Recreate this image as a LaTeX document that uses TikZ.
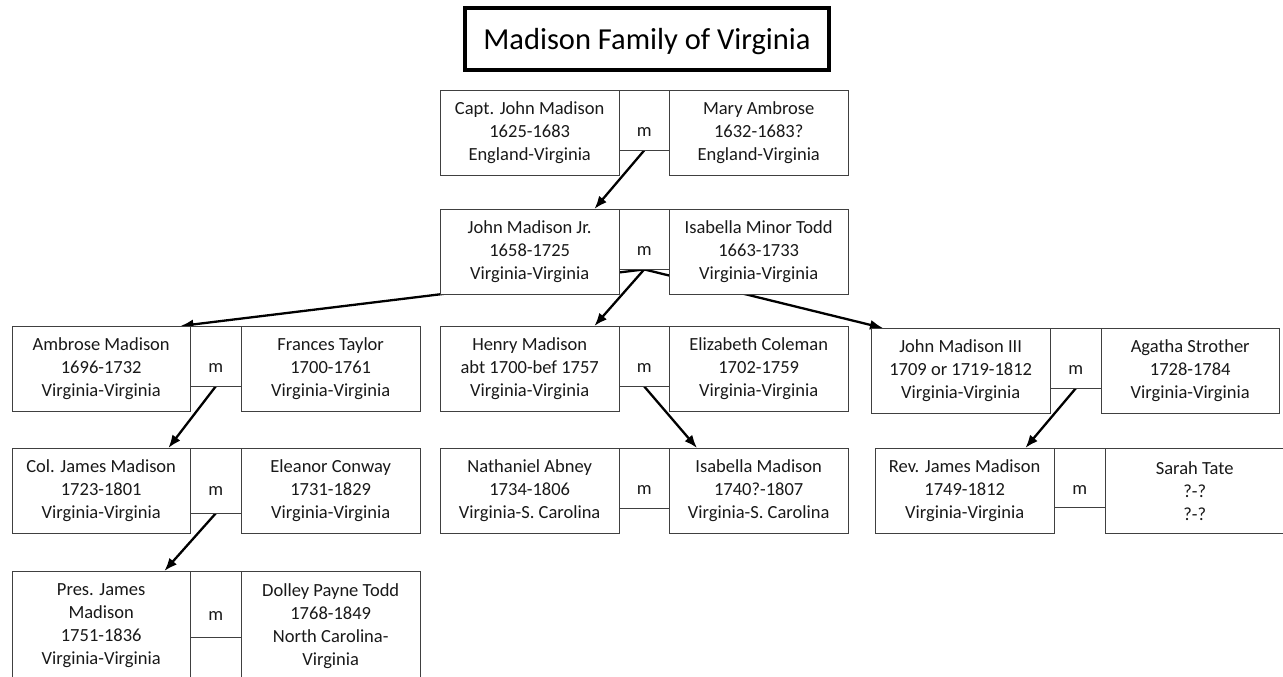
\documentclass[tikz,border=0pt]{standalone}
\usepackage{fontspec}
\setmainfont{Carlito}
\usepackage{tikz}
\usetikzlibrary{shapes,positioning,arrows.meta,backgrounds}

\tikzset{
  person/.style={draw=black!75,fill=white,anchor=north west,align=center,inner sep=0pt,minimum height=85pt,minimum width=179pt,text=black!90,font=\fontsize{18.5}{23}\selectfont},
  marr/.style={draw=black!75,fill=white,anchor=north west,inner sep=0pt,minimum height=60pt,minimum width=50pt,text height=33pt,text depth=0pt,text=black!90,font=\fontsize{18.5}{23}\selectfont},
  child/.style={-{Latex[length=13pt,width=10pt]},line width=2.3pt,black},
}

\begin{document}
\begin{tikzpicture}[x=1pt,y=-1pt]
 \useasboundingbox (0,0) rectangle (1283,677);
 % title
 \node[draw,line width=4pt,fill=white,minimum width=364pt,minimum height=62pt,text height=27pt,text depth=6pt,font=\fontsize{30.5}{34}\selectfont] (title) at (647,39) {Madison Family of Virginia};
 % generation 1
 \node[person] (capt) at (440,90) {Capt. John Madison\\1625-1683\\England-Virginia};
 \node[marr] (m1) at (619,90) {m};
 \node[person] (mary) at (669,90) {Mary Ambrose\\1632-1683?\\England-Virginia};
 % generation 2
 \node[person] (jmjr) at (440,209) {John Madison Jr.\\1658-1725\\Virginia-Virginia};
 \node[marr] (m2) at (619,209) {m};
 \node[person] (isab) at (669,209) {Isabella Minor Todd\\1663-1733\\Virginia-Virginia};
 % generation 3
 \node[person,minimum width=178pt] (ambr) at (12,326) {Ambrose Madison\\1696-1732\\Virginia-Virginia};
 \node[marr,minimum width=51pt] (m3a) at (190,326) {m};
 \node[person] (fran) at (241,326) {Frances Taylor\\1700-1761\\Virginia-Virginia};
 \node[person] (henr) at (440,326) {Henry Madison\\abt 1700-bef 1757\\Virginia-Virginia};
 \node[marr] (m3b) at (619,326) {m};
 \node[person] (eliz) at (669,326) {Elizabeth Coleman\\1702-1759\\Virginia-Virginia};
 \node[person] (jm3) at (871,328) {John Madison III\\1709 or 1719-1812\\Virginia-Virginia};
 \node[marr,minimum width=51pt] (m3c) at (1050,328) {m};
 \node[person,minimum width=178pt] (agat) at (1101,328) {Agatha Strother\\1728-1784\\Virginia-Virginia};
 % generation 4
 \node[person,minimum width=178pt] (colj) at (12,448) {Col. James Madison\\1723-1801\\Virginia-Virginia};
 \node[marr,minimum width=51pt,minimum height=65pt,text height=29pt] (m4a) at (190,448) {m};
 \node[person] (elea) at (241,448) {Eleanor Conway\\1731-1829\\Virginia-Virginia};
 \node[person] (nath) at (440,448) {Nathaniel Abney\\1734-1806\\Virginia-S. Carolina};
 \node[marr] (m4b) at (619,448) {m};
 \node[person] (isam) at (669,448) {Isabella Madison\\1740?-1807\\Virginia-S. Carolina};
 \node[person] (revj) at (875,448) {Rev. James Madison\\1749-1812\\Virginia-Virginia};
 \node[marr,minimum width=51pt,minimum height=59pt] (m4c) at (1054,448) {m};
 \node[person] (sara) at (1105,448) {Sarah Tate\\?-?\\?-?};
 % generation 5
 \node[person,minimum width=178pt,minimum height=109pt] (pres) at (12,571) {Pres. James\\Madison\\1751-1836\\Virginia-Virginia};
 \node[marr,minimum width=51pt,minimum height=66pt,text height=32pt] (m5) at (190,571) {m};
 \node[person,minimum height=109pt] (doll) at (241,571) {Dolley Payne Todd\\1768-1849\\North Carolina-\\Virginia};
 % descent lines
 \begin{scope}[on background layer]
  \draw[child] (m1.south) -- ([xshift=-25pt]jmjr.north east);
  \draw[child] (m2.south) -- ([xshift=-10pt]ambr.north east);
  \draw[child] (m2.south) -- ([xshift=-25pt]henr.north east);
  \draw[child] (m2.south) -- ([xshift=12pt]jm3.north west);
  \draw[child] (m3a.south) -- ([xshift=-22pt]colj.north east);
  \draw[child] (m3b.south) -- ([xshift=28pt]isam.north west);
  \draw[child] (m3c.south) -- ([xshift=-29pt]revj.north east);
  \draw[child] (m4a.south) -- ([xshift=-26pt]pres.north east);
 \end{scope}
\end{tikzpicture}
\end{document}
